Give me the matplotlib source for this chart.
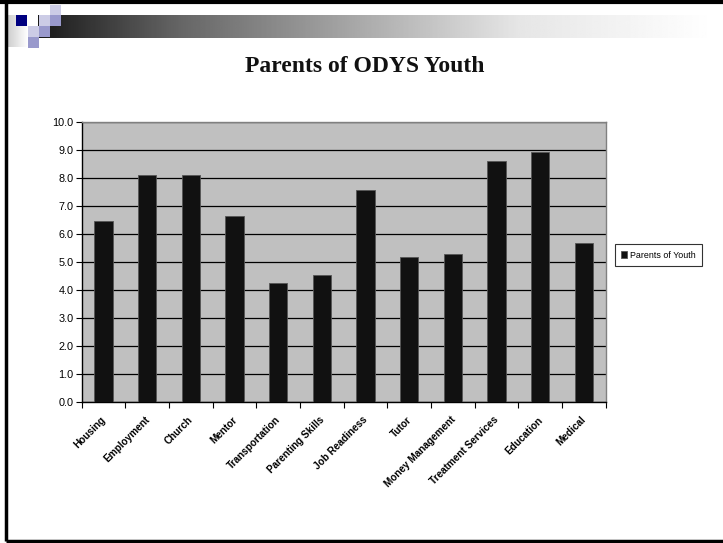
import numpy as np
import matplotlib.pyplot as plt
from matplotlib.patches import Rectangle

categories = ['Housing', 'Employment', 'Church', 'Mentor', 'Transportation',
              'Parenting Skills', 'Job Readiness', 'Tutor', 'Money Management',
              'Treatment Services', 'Education', 'Medical']
values = [6.46, 8.10, 8.10, 6.64, 4.24, 4.53, 7.57, 5.19, 5.30, 8.60, 8.93, 5.67]
series_name = 'Parents of Youth'
title = 'Parents of ODYS Youth'

W, H = 723, 543
fig = plt.figure(figsize=(W / 100, H / 100), dpi=100)
fig.patch.set_facecolor('white')

# page decoration (frame, header gradient, little squares)
deco = fig.add_axes([0, 0, 1, 1])
deco.set_xlim(0, W)
deco.set_ylim(H, 0)
deco.axis('off')
deco.plot([0, W], [2, 2], color='black', lw=3, solid_capstyle='butt')
deco.plot([6, 6], [2, 541], color='black', lw=2.5, solid_capstyle='butt')
deco.plot([6, W], [541, 541], color='black', lw=2.5, solid_capstyle='butt')

gx = np.linspace(0, 1, 400)
shade = np.interp(gx, [0, 0.21, 0.71, 1.0], [0.10, 0.40, 0.90, 1.0])
grad = np.tile(shade, (2, 1))
deco.imshow(grad, cmap='gray', vmin=0, vmax=1, aspect='auto',
            extent=[38, 715, 38, 15], zorder=1)
lgrad = np.tile(np.linspace(0.8, 1.0, 50), (2, 1))
deco.imshow(lgrad, cmap='gray', vmin=0, vmax=1, aspect='auto',
            extent=[7, 28, 47, 15], zorder=1)
squares = [(16, 15, '#000080'), (50, 5, '#CCCCE6'), (39, 15, '#CCCCE6'),
           (50, 15, '#9999CC'), (28, 26, '#CCCCE6'), (39, 26, '#9999CC'),
           (28, 37, '#9999CC')]
for sx, sy, c in squares:
    deco.add_patch(Rectangle((sx, sy), 11, 11, facecolor=c, edgecolor='none', zorder=2))
deco.set_xlim(0, W)
deco.set_ylim(H, 0)

fig.text(365 / W, 1 - 66 / H, title, ha='center', va='center',
         fontsize=17, fontweight='bold', family='Liberation Serif', color='#111111')

# chart
ax = fig.add_axes([81.7 / W, 1 - 402.3 / H, 524 / W, 280.6 / H])
ax.set_facecolor('#C0C0C0')
x = np.arange(len(categories))
ax.bar(x, values, width=0.42, color='#111111', edgecolor='#555555', linewidth=0.6,
       zorder=3, label=series_name)
ax.set_xlim(-0.5, len(categories) - 0.5)
ax.set_ylim(0, 10)
ax.set_yticks(np.arange(0, 10.01, 1.0))
ax.set_yticklabels([f'{v:.1f}' for v in np.arange(0, 10.01, 1.0)],
                   fontsize=7.8, family='Liberation Sans')
ax.grid(axis='y', color='black', linewidth=0.9, zorder=1)
ax.set_axisbelow(True)

ax.set_xticks(np.arange(-0.5, len(categories), 1.0))
ax.set_xticklabels([])
ax.tick_params(axis='x', length=4, width=0.8, direction='out')
ax.tick_params(axis='y', length=4, width=0.8, direction='out', pad=2)
for i, name in enumerate(categories):
    ax.annotate(name, xy=(i, 0), xycoords=('data', 'axes fraction'),
                xytext=(-2, -9), textcoords='offset points',
                rotation=45, ha='right', va='top', rotation_mode='anchor',
                fontsize=7.2, fontweight='bold', family='Liberation Sans')

for side in ['top', 'right']:
    ax.spines[side].set_color('#808080')
    ax.spines[side].set_linewidth(1.0)
for side in ['left', 'bottom']:
    ax.spines[side].set_color('black')
    ax.spines[side].set_linewidth(1.0)

leg = fig.legend(loc='center left', bbox_to_anchor=(615 / W, 1 - 255 / H),
                 frameon=True, fancybox=False,
                 prop={'family': 'Liberation Sans', 'size': 6.4},
                 handlelength=0.7, handleheight=0.8, handletextpad=0.3,
                 borderpad=0.7, borderaxespad=0)
leg.get_frame().set_edgecolor('black')
leg.get_frame().set_linewidth(0.8)

fig.savefig('out.png', dpi=100)
